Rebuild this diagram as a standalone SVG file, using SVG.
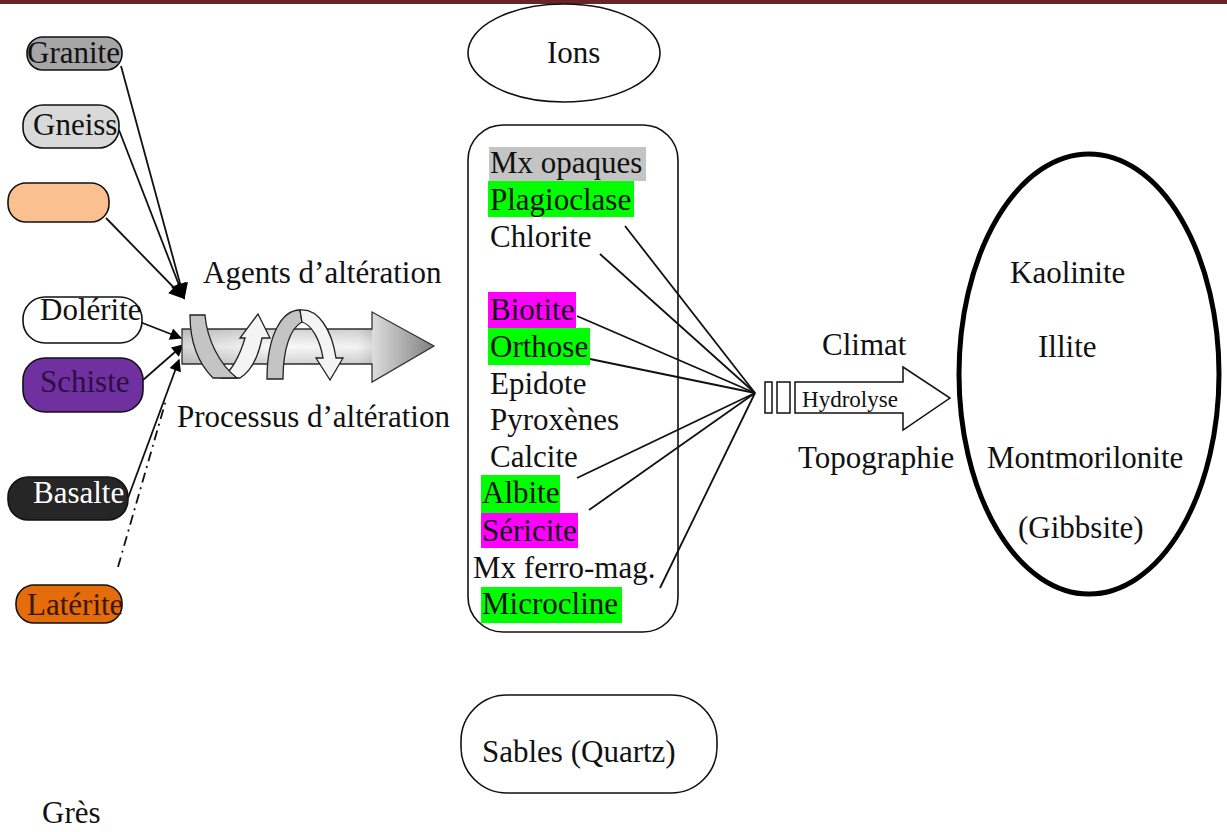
<svg xmlns="http://www.w3.org/2000/svg" width="1227" height="832" viewBox="0 0 1227 832">
<style>
text{font-family:"Liberation Serif","Times New Roman",serif;font-size:31px;fill:#111}
.box{stroke:#111;stroke-width:1.6}
.ln{stroke:#111;stroke-width:1.8;fill:none}
.rib{stroke:#222;stroke-width:1.3}
</style>
<defs>
<marker id="ah" viewBox="0 0 10 10" refX="9" refY="5" markerWidth="14" markerHeight="12" markerUnits="userSpaceOnUse" orient="auto">
<path d="M0,0 L10,5 L0,10 Z" fill="#000"/>
</marker>
<marker id="ahb" viewBox="0 0 10 10" refX="9" refY="5" markerWidth="19" markerHeight="16" markerUnits="userSpaceOnUse" orient="auto">
<path d="M0,0 L10,5 L0,10 Z" fill="#000"/>
</marker>
<linearGradient id="ag" x1="0" y1="0" x2="1" y2="0">
<stop offset="0" stop-color="#d8d8d8"/>
<stop offset="0.35" stop-color="#fafafa"/>
<stop offset="0.7" stop-color="#f2f2f2"/>
<stop offset="1" stop-color="#808080"/>
</linearGradient>
<linearGradient id="agv" x1="0" y1="0" x2="0" y2="1">
<stop offset="0" stop-color="#000" stop-opacity="0.15"/>
<stop offset="0.5" stop-color="#000" stop-opacity="0"/>
<stop offset="1" stop-color="#000" stop-opacity="0.15"/>
</linearGradient>
</defs>
<rect x="0" y="0" width="1227" height="4" fill="#6b2424"/>

<g id="connectors">
<line class="ln" x1="121" y1="66" x2="184" y2="298" marker-end="url(#ahb)"/>
<line class="ln" x1="119" y1="130" x2="184" y2="298" marker-end="url(#ahb)"/>
<line class="ln" x1="106" y1="218" x2="184" y2="298" marker-end="url(#ahb)"/>
<line class="ln" x1="140" y1="322" x2="181" y2="338" marker-end="url(#ah)"/>
<line class="ln" x1="143" y1="380" x2="183" y2="345" marker-end="url(#ah)"/>
<line class="ln" x1="128" y1="498" x2="179" y2="360" marker-end="url(#ah)"/>
<line class="ln" x1="118" y1="567" x2="166" y2="400" stroke-dasharray="10 5 2 5"/>
<line class="ln" x1="625" y1="226" x2="755" y2="393"/>
<line class="ln" x1="600" y1="254" x2="755" y2="393"/>
<line class="ln" x1="577" y1="316" x2="755" y2="393"/>
<line class="ln" x1="590" y1="359" x2="755" y2="393"/>
<line class="ln" x1="577" y1="478" x2="755" y2="393"/>
<line class="ln" x1="589" y1="510" x2="755" y2="393"/>
<line class="ln" x1="660" y1="588" x2="755" y2="393"/>
</g>

<g id="granite"><rect class="box" x="27" y="37" width="95" height="33" rx="16" fill="#a6a6a6"/><text x="27" y="63">Granite</text></g>
<g id="gneiss"><rect class="box" x="23" y="105" width="96" height="43" rx="20" fill="#d9d9d9"/><text x="33" y="135">Gneiss</text></g>
<g id="gres-box"><rect class="box" x="8" y="183" width="101" height="39" rx="18" fill="#fac090"/></g>
<g id="dolerite"><rect class="box" x="23" y="297" width="119" height="46" rx="22" fill="#fff"/><text x="40" y="320">Dolérite</text></g>
<g id="schiste"><rect class="box" x="23" y="358" width="120" height="54" rx="22" fill="#7030a0"/><text x="40" y="392" style="fill:#2a0f45">Schiste</text></g>
<g id="basalte"><rect class="box" x="8" y="477" width="120" height="43" rx="20" fill="#262626"/><text x="33" y="503" style="fill:#fff">Basalte</text></g>
<g id="laterite"><rect class="box" x="16" y="585" width="106" height="38" rx="18" fill="#e46c0a"/><text x="27" y="615" style="fill:#3b1800">Latérite</text></g>

<g id="process-arrow">
<path d="M182,329 L372,329 L372,312 L434,346 L372,382 L372,364 L182,364 Z" fill="url(#ag)" stroke="#333" stroke-width="1.3"/>
<path d="M182,329 L372,329 L372,364 L182,364 Z" fill="url(#agv)"/>
<path class="rib" fill="#f4f4f4" d="M222,378 C232,370 240,355 245,338 L240,338 L258,314 L270,338 L262,338 C258,358 250,372 240,378 Z"/>
<path class="rib" fill="#c4c4c4" d="M190,315 L205,315 C207,340 220,365 237,378 L213,378 C200,365 190,345 190,315 Z"/>
<path class="rib" fill="#c4c4c4" d="M267,379 L283,379 C283,350 290,328 302,322 L300,310 C282,310 267,335 267,379 Z"/>
<path class="rib" fill="#f4f4f4" d="M300,310 C318,308 332,330 336,358 L343,358 L330,380 L316,358 L323,358 C320,340 312,325 302,322 Z"/>
</g>
<g id="agents"><text x="203" y="283">Agents d’altération</text></g>
<g id="processus"><text x="177" y="427">Processus d’altération</text></g>

<g id="ions"><ellipse class="box" cx="564" cy="53" rx="96" ry="49" fill="#fff"/><text x="547" y="63">Ions</text></g>

<g id="minerals">
<rect class="box" x="468" y="125" width="210" height="507" rx="35" fill="none"/>
<rect x="489" y="147" width="157" height="34" fill="#c4c4c4"/>
<rect x="488" y="181" width="146" height="36" fill="#00ff00"/>
<rect x="488" y="292" width="88" height="36" fill="#ff00ff"/>
<rect x="488" y="328" width="102" height="37" fill="#00ff00"/>
<rect x="481" y="475" width="79" height="38" fill="#00ff00"/>
<rect x="481" y="513" width="97" height="35" fill="#ff00ff"/>
<rect x="481" y="587" width="141" height="36" fill="#00ff00"/>
<text x="490" y="173">Mx opaques</text>
<text x="490" y="210">Plagioclase</text>
<text x="490" y="247">Chlorite</text>
<text x="490" y="320">Biotite</text>
<text x="490" y="357">Orthose</text>
<text x="490" y="394">Epidote</text>
<text x="490" y="430">Pyroxènes</text>
<text x="490" y="467">Calcite</text>
<text x="482" y="503">Albite</text>
<text x="482" y="541">Séricite</text>
<text x="473" y="578">Mx ferro-mag.</text>
<text x="482" y="614">Microcline</text>
</g>

<g id="hydrolyse">
<rect x="765" y="382" width="7" height="31" fill="#fff" stroke="#111" stroke-width="1.5"/>
<rect x="777" y="382" width="13" height="31" fill="#fff" stroke="#111" stroke-width="1.5"/>
<path d="M795,382 L903,382 L903,367 L950,398 L903,430 L903,413 L795,413 Z" fill="#fff" stroke="#111" stroke-width="1.5"/>
<text x="802" y="407" style="font-size:23px" textLength="96" lengthAdjust="spacingAndGlyphs">Hydrolyse</text>
</g>
<g id="climat"><text x="822" y="355">Climat</text></g>
<g id="topographie"><text x="798" y="468">Topographie</text></g>

<g id="clays">
<ellipse cx="1089" cy="374" rx="130" ry="220" fill="none" stroke="#000" stroke-width="5"/>
<text x="1010" y="283">Kaolinite</text>
<text x="1038" y="357">Illite</text>
<text x="987" y="468">Montmorilonite</text>
<text x="1018" y="538">(Gibbsite)</text>
</g>

<g id="sables"><rect class="box" x="461" y="695" width="256" height="98" rx="46" fill="#fff"/><text x="482" y="762">Sables (Quartz)</text></g>

<g id="gres"><text x="42" y="823">Grès</text></g>
</svg>
